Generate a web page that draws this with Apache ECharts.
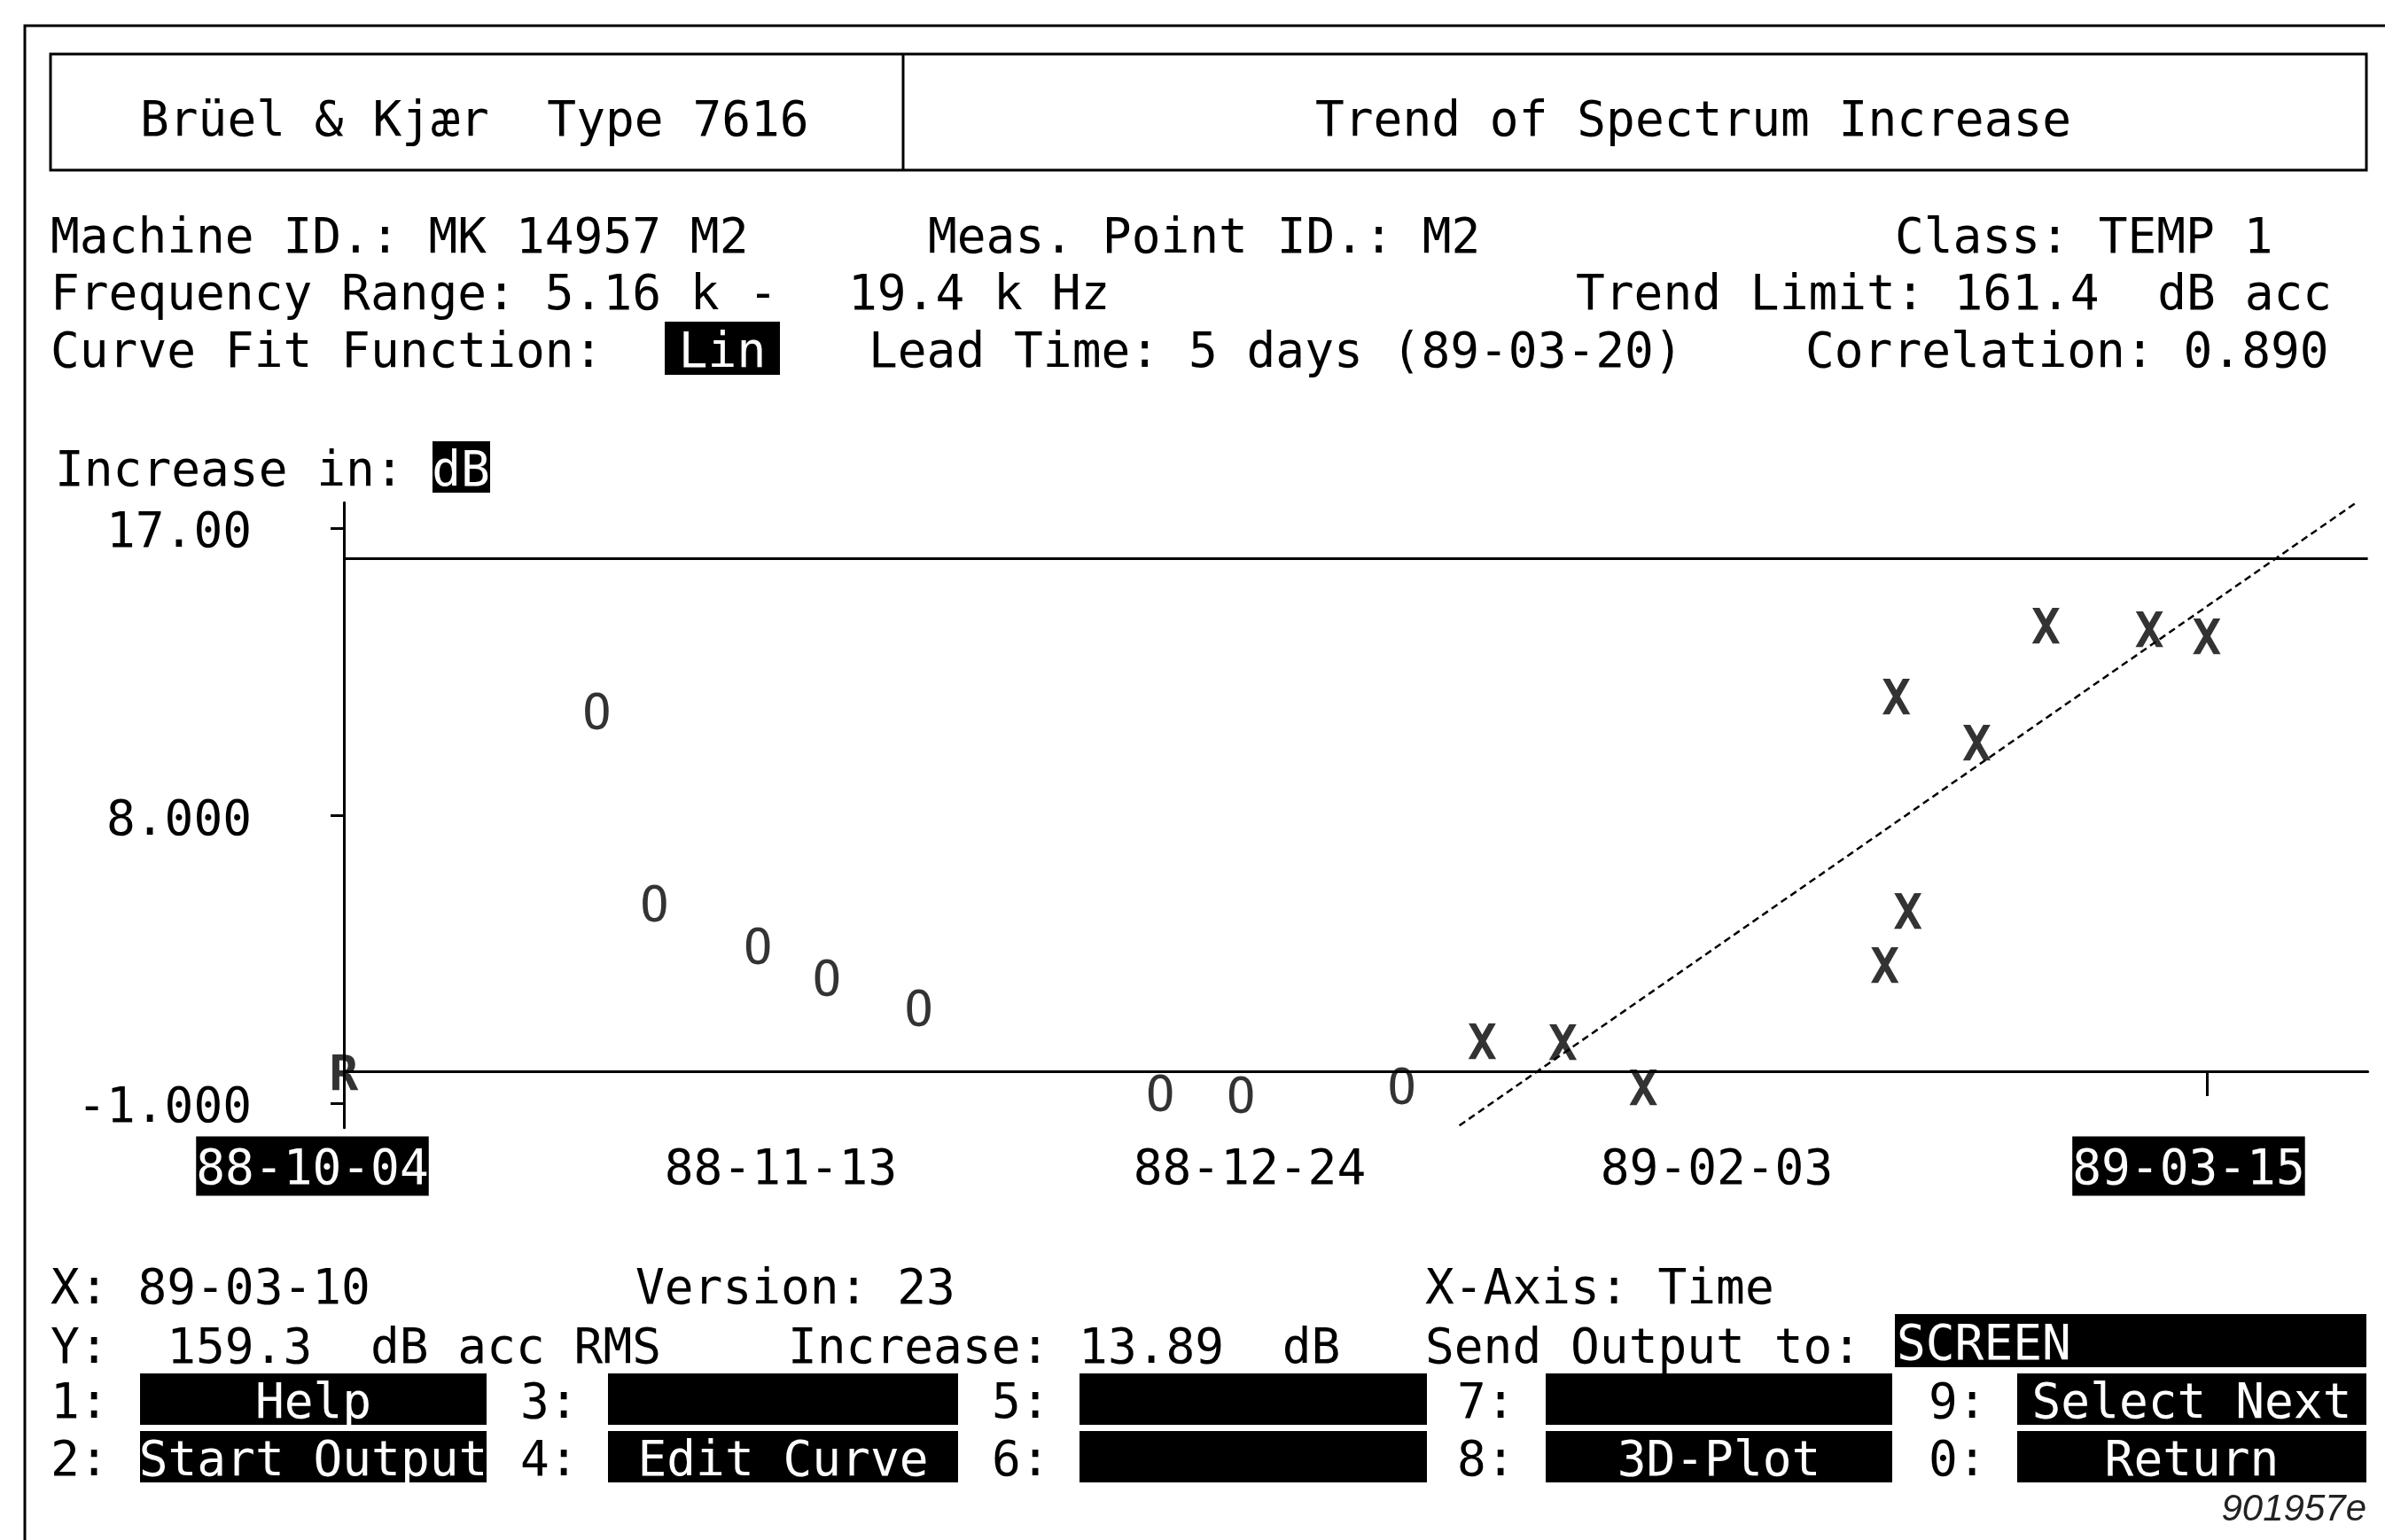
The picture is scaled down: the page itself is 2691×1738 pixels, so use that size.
<!DOCTYPE html>
<html>
<head>
<meta charset="utf-8">
<script src="https://cdn.jsdelivr.net/npm/echarts@6/dist/echarts.min.js"></script>
<style>
  html, body { margin: 0; padding: 0; background: #fff; }
  #chart { width: 2691px; height: 1738px; }
</style>
</head>
<body>
<div id="chart"></div>
<script>
// measurement dates (yy-mm-dd) and increase in dB
const oDates = ['88-10-26', '88-10-31', '88-11-09', '88-11-15', '88-11-23', '88-12-14', '88-12-21', '89-01-04'];
const oValues = [11.31, 5.30, 3.97, 2.97, 2.02, -0.64, -0.69, -0.42];
const xDates = ['89-01-11', '89-01-18', '89-01-25', '89-02-15', '89-02-17', '89-02-16', '89-02-23', '89-03-01', '89-03-10', '89-03-15'];
const xValues = [0.97, 0.94, -0.47, 3.36, 5.05, 11.76, 10.32, 13.98, 13.87, 13.64];
const refDate = '88-10-04';
const refValue = 0;
// linear curve fit, end points
const fitDates = ['89-01-09', '89-03-28'];
const fitValues = [-1.70, 17.80];
const trendLimit = 16.05;
// axes
const tickDates = ['88-10-04', '88-11-13', '88-12-24', '89-02-03', '89-03-15'];
const highlightedTicks = ['88-10-04', '89-03-15'];
const yTicks = [-1, 8, 17];
const yTickLabels = ['-1.000', '8.000', '17.00'];

const FONT = '"DejaVu Sans Mono", monospace';
const FS = 54.5;
const DY = 7; // glyph centre sits a bit above the text middle

function dayOf(s) {
    const p = s.split('-').map(Number);
    const r = refDate.split('-').map(Number);
    return (Date.UTC(1900 + p[0], p[1] - 1, p[2]) - Date.UTC(1900 + r[0], r[1] - 1, r[2])) / 86400000;
}
const tickDays = tickDates.map(dayOf);

function txt(x, y, text, opt) {
    opt = opt || {};
    return {
        type: 'text', x: x, y: y + DY, z: 101,
        style: {
            text: text,
            font: (opt.weight || 'normal') + ' ' + (opt.size || FS) + 'px ' + (opt.family || FONT),
            fill: opt.fill || '#000',
            textAlign: opt.align || 'left',
            textVerticalAlign: 'middle'
        }
    };
}
function box(x1, y1, x2, y2) {
    return { type: 'rect', z: 100, shape: { x: x1, y: y1, width: x2 - x1, height: y2 - y1 }, style: { fill: '#000' } };
}
function hline(x1, y1, x2, y2) {
    return { type: 'line', z: 100, shape: { x1: x1, y1: y1, x2: x2, y2: y2 }, style: { stroke: '#000', lineWidth: 3 } };
}

const graphic = [
    { type: 'polyline', z: 100, shape: { points: [[28, 1738], [28, 29], [2691, 29]] }, style: { stroke: '#000', lineWidth: 3, fill: null } },
    { type: 'rect', z: 100, shape: { x: 57, y: 61, width: 2613, height: 131 }, style: { stroke: '#000', lineWidth: 3, fill: null } },
    hline(1019, 61, 1019, 192),
    txt(158, 132, 'Brüel & Kjær  Type 7616'),
    txt(1484, 132, 'Trend of Spectrum Increase'),

    txt(57, 264, 'Machine ID.: MK 14957 M2'),
    txt(1047, 264, 'Meas. Point ID.: M2'),
    txt(2138, 264, 'Class: TEMP 1'),
    txt(57, 328, 'Frequency Range: 5.16 k -'),
    txt(957, 328, '19.4 k Hz'),
    txt(1778, 328, 'Trend Limit: 161.4  dB acc'),
    txt(57, 393, 'Curve Fit Function:'),
    box(750, 363, 880, 423),
    txt(815, 393, 'Lin', { fill: '#fff', align: 'center' }),
    txt(980, 393, 'Lead Time: 5 days (89-03-20)'),
    txt(2037, 393, 'Correlation: 0.890'),

    txt(62, 527, 'Increase in:'),
    box(488, 498, 553, 556),
    txt(520, 527, 'dB', { fill: '#fff', align: 'center' }),

    txt(57, 1450, 'X: 89-03-10'),
    txt(717, 1450, 'Version: 23'),
    txt(1608, 1450, 'X-Axis: Time'),
    txt(57, 1517, 'Y:  159.3  dB acc RMS'),
    txt(889, 1517, 'Increase: 13.89  dB'),
    txt(1608, 1517, 'Send Output to:'),
    box(2138, 1483, 2670, 1543),
    txt(2140, 1513, 'SCREEN', { fill: '#fff' }),
    txt(2670, 1697, '901957e', { family: '"Liberation Sans", sans-serif', size: 42, align: 'right', fill: '#222', weight: 'italic' })
];

const keyCols = [[57, 158, 549], [587, 686, 1081], [1119, 1218, 1610], [1644, 1744, 2135], [2176, 2276, 2670]];
const keyRows = [
    { y1: 1550, y2: 1608, keys: ['1:', '3:', '5:', '7:', '9:'], names: ['Help', '', '', '', 'Select Next'] },
    { y1: 1615, y2: 1673, keys: ['2:', '4:', '6:', '8:', '0:'], names: ['Start Output', 'Edit Curve', '', '3D-Plot', 'Return'] }
];
keyRows.forEach(function (row) {
    const yc = (row.y1 + row.y2) / 2;
    keyCols.forEach(function (c, i) {
        graphic.push(txt(c[0], yc, row.keys[i]));
        graphic.push(box(c[1], row.y1, c[2], row.y2));
        if (row.names[i]) graphic.push(txt((c[1] + c[2]) / 2, yc, row.names[i], { fill: '#fff', align: 'center' }));
    });
});

// small shifts of the date labels to the left of their ticks
const labelGaps = [71, 52, 58, 68, 41];
const rich = {
    h: { color: '#fff', backgroundColor: '#000', fontFamily: FONT, fontSize: FS, lineHeight: 46, padding: [12, 0, 0, 0] },
    n: { color: '#000', fontFamily: FONT, fontSize: FS, lineHeight: 46, padding: [12, 0, 0, 0] }
};
labelGaps.forEach(function (g, i) { rich['g' + i] = { width: g, fontSize: FS, lineHeight: 46, padding: [12, 0, 0, 0] }; });

function glyphLabel(ch, weight) {
    return {
        show: true, position: 'inside', formatter: ch, color: '#000', offset: [0, DY],
        fontFamily: FONT, fontSize: FS, fontWeight: weight
    };
}

const chart = echarts.init(document.getElementById('chart'));
chart.setOption({
    animation: false,
    backgroundColor: '#fff',
    graphic: graphic,
    grid: { left: 388, right: 19.4, top: 567.2, bottom: 465.2, containLabel: false, outerBoundsMode: 'none' },
    xAxis: {
        type: 'value', min: 0, max: 176, offset: -27.8,
        splitLine: { show: false },
        axisLine: { show: true, lineStyle: { color: '#000', width: 3 } },
        axisTick: { show: true, customValues: [dayOf('89-03-15')], length: 28, inside: false, lineStyle: { color: '#000', width: 3 } },
        axisLabel: {
            customValues: tickDays, margin: 48, align: 'center',
            formatter: function (v) {
                const i = tickDays.indexOf(v);
                const s = tickDates[i];
                return '{' + (highlightedTicks.indexOf(s) >= 0 ? 'h' : 'n') + '|' + s + '}{g' + i + '| }';
            },
            rich: rich
        }
    },
    yAxis: {
        type: 'value', min: -1.77, max: 17.8,
        splitLine: { show: false },
        axisLine: { show: true, lineStyle: { color: '#000', width: 3 } },
        axisTick: { show: true, customValues: yTicks, length: 15, lineStyle: { color: '#000', width: 3 } },
        axisLabel: {
            customValues: yTicks, margin: 104,
            formatter: function (v) { return '{a|' + yTickLabels[yTicks.indexOf(v)] + '}'; },
            rich: { a: { color: '#000', fontFamily: FONT, fontSize: FS, lineHeight: 50, padding: [2 * DY, 0, 0, 0] } }
        }
    },
    series: [
        {
            name: 'fit', type: 'line', clip: true, showSymbol: false, silent: true,
            data: fitDates.map(function (d, i) { return [dayOf(d), fitValues[i]]; }),
            lineStyle: { color: '#000', width: 2.5, type: [8, 5] },
            markLine: {
                silent: true, symbol: 'none', label: { show: false },
                lineStyle: { color: '#000', width: 3, type: 'solid' },
                data: [{ yAxis: trendLimit }]
            }
        },
        {
            name: 'before', type: 'scatter', symbolSize: 1, itemStyle: { color: 'transparent' },
            data: oDates.map(function (d, i) { return [dayOf(d), oValues[i]]; }),
            label: glyphLabel('O', 'normal')
        },
        {
            name: 'after', type: 'scatter', symbolSize: 1, itemStyle: { color: 'transparent' },
            data: xDates.map(function (d, i) { return [dayOf(d), xValues[i]]; }),
            label: glyphLabel('X', 'bold')
        },
        {
            name: 'reference', type: 'scatter', symbolSize: 1, itemStyle: { color: 'transparent' },
            data: [[dayOf(refDate), refValue]],
            label: glyphLabel('R', 'bold')
        }
    ]
});
</script>
</body>
</html>
